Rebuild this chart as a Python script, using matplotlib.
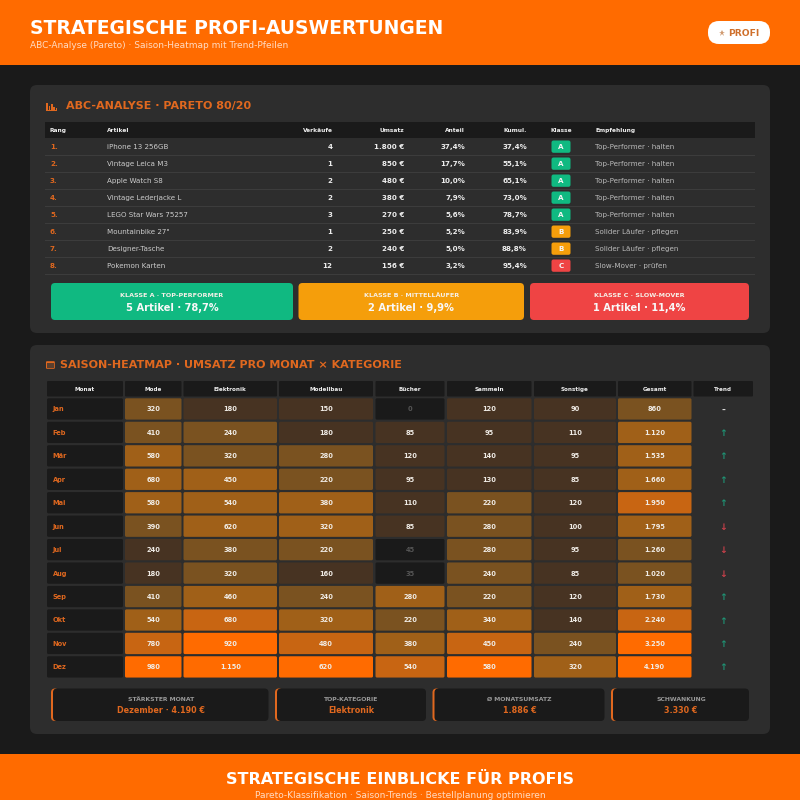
"""Strategische Profi-Auswertungen: ABC table and season heatmap dashboard."""

import matplotlib
matplotlib.use("Agg")
import matplotlib.pyplot as plt
from matplotlib.patches import FancyBboxPatch, Rectangle

# ── Palette ──
ORANGE = "#ff6b00"
TITLE_OR = "#e0681f"
BG = "#1a1a1a"
CARD = "#2d2d2d"
LINE = "#3c3c3c"
CLASS_COLORS = {"A": "#10b981", "B": "#f59e0b", "C": "#ef4444"}
HEAT = ["#1a1a1a", "#473322", "#7a5220", "#a06018", "#c86512", "#ff6b00"]

# ── ABC data ──
articles = ["iPhone 13 256GB", "Vintage Leica M3", "Apple Watch S8", "Vintage Lederjacke L",
            "LEGO Star Wars 75257", "Mountainbike 27\"", "Designer-Tasche", "Pokemon Karten"]
sales = [4, 1, 2, 2, 3, 1, 2, 12]
revenue = [1800, 850, 480, 380, 270, 250, 240, 156]
share = [37.4, 17.7, 10.0, 7.9, 5.6, 5.2, 5.0, 3.2]
cumul = [37.4, 55.1, 65.1, 73.0, 78.7, 83.9, 88.8, 95.4]
classes = ["A", "A", "A", "A", "A", "B", "B", "C"]
advice = {"A": "Top-Performer · halten", "B": "Solider Läufer · pflegen", "C": "Slow-Mover · prüfen"}
abc_head = ["Rang", "Artikel", "Verkäufe", "Umsatz", "Anteil", "Kumul.", "Klasse", "Empfehlung"]
class_titles = ["KLASSE A · TOP-PERFORMER", "KLASSE B · MITTELLÄUFER", "KLASSE C · SLOW-MOVER"]
class_values = ["5 Artikel · 78,7%", "2 Artikel · 9,9%", "1 Artikel · 11,4%"]

# ── Heatmap data ──
heat_head = ["Monat", "Mode", "Elektronik", "Modellbau", "Bücher", "Sammeln", "Sonstige", "Gesamt", "Trend"]
months = ["Jan", "Feb", "Mär", "Apr", "Mai", "Jun", "Jul", "Aug", "Sep", "Okt", "Nov", "Dez"]
mode = [320, 410, 580, 680, 580, 390, 240, 180, 410, 540, 780, 980]
elektronik = [180, 240, 320, 450, 540, 620, 380, 320, 460, 680, 920, 1150]
modellbau = [150, 180, 280, 220, 380, 320, 220, 160, 240, 320, 480, 620]
buecher = [0, 85, 120, 95, 110, 85, 45, 35, 280, 220, 380, 540]
sammeln = [120, 95, 140, 130, 220, 280, 280, 240, 220, 340, 450, 580]
sonstige = [90, 110, 95, 85, 120, 100, 95, 85, 120, 140, 240, 320]
gesamt = [860, 1120, 1535, 1660, 1950, 1795, 1260, 1020, 1730, 2240, 3250, 4190]
trend = ["-", "↑", "↑", "↑", "↑", "↓", "↓", "↓", "↑", "↑", "↑", "↑"]
# shade class of every cell, same column order
levels = [[2, 1, 1, 0, 1, 1, 2],
          [2, 2, 1, 1, 1, 1, 3],
          [3, 2, 2, 1, 1, 1, 3],
          [3, 3, 2, 1, 1, 1, 3],
          [3, 3, 3, 1, 2, 1, 4],
          [2, 3, 3, 1, 2, 1, 3],
          [1, 2, 2, 0, 2, 1, 2],
          [1, 2, 1, 0, 2, 1, 2],
          [2, 3, 2, 3, 2, 1, 3],
          [3, 4, 3, 2, 3, 1, 4],
          [4, 5, 4, 3, 4, 2, 5],
          [5, 5, 5, 4, 5, 3, 5]]
kpi_labels = ["STÄRKSTER MONAT", "TOP-KATEGORIE", "Ø MONATSUMSATZ", "SCHWANKUNG"]
kpi_values = ["Dezember · 4.190 €", "Elektronik", "1.886 €", "3.330 €"]

# ── Layout (pixels) ──
ABC_X = [50, 107, 332.5, 404, 465, 527, 561, 595]
ABC_HA = ["left", "left", "right", "right", "right", "right", "center", "left"]
HEAT_EDGES = [(47, 123), (125, 181.5), (183.5, 277), (279, 373), (375.5, 444.5),
              (447, 531.5), (534, 616), (618, 691.5), (693.5, 753)]
CLASS_BOX = [(51, 293), (298.5, 524), (530, 749)]
KPI_BOX = [(51, 268.5), (275, 426), (432.5, 604.5), (611, 749)]

fig = plt.figure(figsize=(8, 8), dpi=100, facecolor=BG)
ax = fig.add_axes([0, 0, 1, 1])
ax.set_xlim(0, 800)
ax.set_ylim(800, 0)
ax.axis("off")


def box(x0, x1, y0, y1, color, r=0.0, z=1):
    if r:
        ax.add_patch(FancyBboxPatch((x0, y0), x1 - x0, y1 - y0, boxstyle=f"round,pad=0,rounding_size={r}",
                                    fc=color, ec="none", zorder=z))
    else:
        ax.add_patch(Rectangle((x0, y0), x1 - x0, y1 - y0, fc=color, ec="none", zorder=z))


def txt(x, y, s, px, color="white", bold=False, ha="left", z=5):
    ax.text(x, y, s, fontsize=px * 0.72, color=color, ha=ha, va="center_baseline",
            fontweight="bold" if bold else "normal", zorder=z, clip_on=True)


def de(v):
    return f"{v:,}".replace(",", ".")


def pct(v):
    return f"{v:.1f}%".replace(".", ",")


# header and footer
box(0, 800, 0, 65, ORANGE)
box(0, 800, 754, 800, ORANGE)
txt(30, 26.5, "STRATEGISCHE PROFI-AUSWERTUNGEN", 18.75, bold=True)
txt(30, 44.5, "ABC-Analyse (Pareto) · Saison-Heatmap mit Trend-Pfeilen", 9.0, color="#ffdcc4")
box(708, 770, 21, 44, "white", r=11)
# the star emoji is in no installed font, so it is a marker here
ax.plot([722], [32.5], marker="*", ms=5, color="#d09a70", mew=0, zorder=5)
txt(728, 32.5, "PROFI", 9.2, color="#cf6f2b", bold=True)
txt(400, 777.5, "STRATEGISCHE EINBLICKE FÜR PROFIS", 16.05, bold=True, ha="center")
txt(400, 795, "Pareto-Klassifikation · Saison-Trends · Bestellplanung optimieren", 9.0,
    color="#ffdcc4", ha="center")

# ABC card
box(30, 770, 85, 333, CARD, r=7)
# bar chart icon, drawn because no installed font has the emoji
for bx, bh in zip([46.2, 48.6, 51, 53.4, 55.6], [8, 5, 6.5, 3.5, 2.5]):
    box(bx, bx + 1.5, 110.5 - bh, 110.5, TITLE_OR, z=3)
box(45.5, 57, 110, 110.8, TITLE_OR, z=3)
txt(66, 105.5, "ABC-ANALYSE · PARETO 80/20", 11.1, color=TITLE_OR, bold=True)
box(45, 755, 122, 138, BG)
for x, ha, head in zip(ABC_X, ABC_HA, abc_head):
    txt(x, 130.2, head, 5.9, color="#eeeeee", bold=True, ha=ha)

for i, art in enumerate(articles):
    y = 146.5 + 17 * i
    box(45, 755, y + 8, y + 9, LINE)
    cl = classes[i]
    txt(ABC_X[0], y, f"{i + 1}.", 7.2, color=TITLE_OR, bold=True)
    txt(ABC_X[1], y, art, 7.1, color="#cccccc")
    txt(ABC_X[2], y, str(sales[i]), 7.2, color="#eeeeee", bold=True, ha="right")
    txt(ABC_X[3], y, f"{de(revenue[i])} €", 7.2, color="#eeeeee", bold=True, ha="right")
    txt(ABC_X[4], y, pct(share[i]), 7.2, color="#eeeeee", bold=True, ha="right")
    txt(ABC_X[5], y, pct(cumul[i]), 7.2, color="#eeeeee", bold=True, ha="right")
    box(551.5, 570.5, y - 6, y + 6.3, CLASS_COLORS[cl], r=2)
    txt(ABC_X[6], y, cl, 7.2, color="#f4f4f4", bold=True, ha="center")
    txt(ABC_X[7], y, advice[cl], 7.2, color="#bbbbbb")

for (x0, x1), cl, title, val in zip(CLASS_BOX, "ABC", class_titles, class_values):
    box(x0, x1, 283, 320, CLASS_COLORS[cl], r=4)
    txt((x0 + x1) / 2, 294.7, title, 6.4, color="#f6f0e8", bold=True, ha="center")
    txt((x0 + x1) / 2, 307, val, 9.9, color="#f8f8f8", bold=True, ha="center")

# heatmap card
box(30, 770, 345, 734, CARD, r=7)
# calendar icon, same reason as the bar chart icon
box(46, 54.8, 361.2, 368.8, TITLE_OR, r=1, z=3)
box(47, 53.8, 363.4, 367.9, "#5a3f2e", z=3)
txt(60, 363.5, "SAISON-HEATMAP · UMSATZ PRO MONAT × KATEGORIE", 11.15, color=TITLE_OR, bold=True)

columns = [mode, elektronik, modellbau, buecher, sammeln, sonstige, gesamt]
for (x0, x1), head in zip(HEAT_EDGES, heat_head):
    box(x0, x1, 381, 396.5, BG, r=1)
    txt((x0 + x1) / 2, 389, head, 5.7, color="#eeeeee", bold=True, ha="center")

for r, month in enumerate(months):
    y0 = 398.3 + 23.45 * r
    y1 = y0 + 21.3
    ym = (y0 + y1) / 2
    box(*HEAT_EDGES[0], y0, y1, BG, r=1.5)
    txt(52.5, ym, month, 6.6, color=TITLE_OR, bold=True)
    for c, col in enumerate(columns):
        x0, x1 = HEAT_EDGES[c + 1]
        lev = levels[r][c]
        box(x0, x1, y0, y1, HEAT[lev], r=1.5)
        low = lev == 0
        txt((x0 + x1) / 2, ym, de(col[r]), 6.6, color="#555555" if low else "#f0ece6", bold=True, ha="center")
    x0, x1 = HEAT_EDGES[8]
    arrow_color = {"↑": "#1f9273", "↓": "#c8404a", "-": "#dddddd"}[trend[r]]
    txt((x0 + x1) / 2, ym, trend[r], 9.5, color=arrow_color, bold=True, ha="center")

# KPI boxes
for (x0, x1), label, val in zip(KPI_BOX, kpi_labels, kpi_values):
    box(x0, x0 + 8, 688.5, 721, TITLE_OR, r=4)
    box(x0 + 2, x1, 688.5, 721, BG, r=4, z=2)
    xm = (x0 + x1) / 2 + 1
    txt(xm, 699, label, 6.2, color="#999999", bold=True, ha="center")
    txt(xm, 709.3, val, 8.0, color=TITLE_OR, bold=True, ha="center")

fig.savefig("out.png", dpi=100, facecolor=BG)
